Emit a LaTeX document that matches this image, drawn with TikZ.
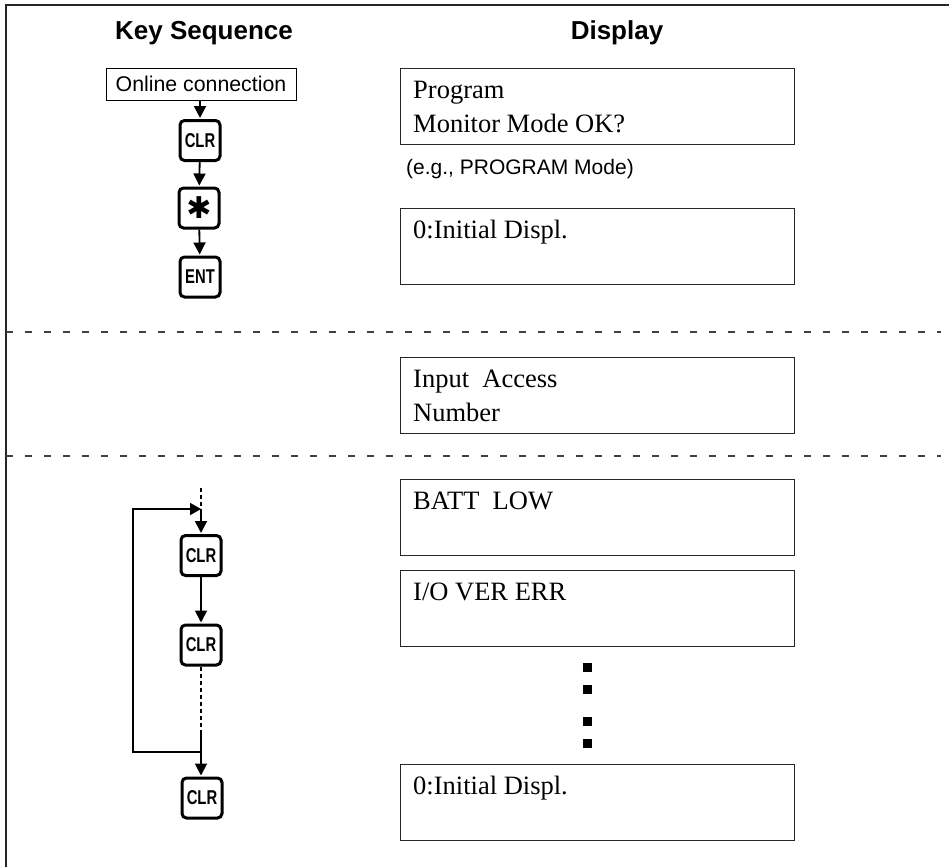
\documentclass[tikz,border=0pt]{standalone}
\usepackage{fontspec}
\setmainfont{Liberation Serif}
\setsansfont{Liberation Sans}
\newfontfamily\symfont{DejaVu Sans}
\usetikzlibrary{arrows.meta}
\tikzset{
  x=1pt,y=-1pt,
  frameline/.style={line width=1.3pt,black!85},
  sep/.style={line width=1.2pt,dash pattern=on 6.5pt off 12.5pt,black!75},
  dispbox/.style={draw,line width=1pt,black!85,minimum width=394pt,minimum height=76pt,inner sep=0pt,anchor=north west},
  disptext/.style={anchor=base west,inner sep=0pt,font=\fontsize{26.5}{26.5}\selectfont,text=black},
  head/.style={anchor=base,inner sep=0pt,font=\sffamily\bfseries\fontsize{26}{26}\selectfont},
  keybox/.style={draw,line width=3pt,rounded corners=4.5pt,minimum width=40pt,minimum height=40pt,inner sep=0pt,font=\sffamily\bfseries\fontsize{20}{20}\selectfont},
  arr/.style={line width=1.8pt,-{Triangle[length=12pt,width=12pt]},shorten >=1pt},
  lin/.style={line width=1.8pt},
  dotline/.style={line width=1.8pt,dash pattern=on 4pt off 3pt},
  dotsq/.style={fill=black,inner sep=0pt,minimum size=9pt},
}
\newcommand{\keylab}[1]{\scalebox{0.74}[1]{#1}}
\begin{document}
\begin{tikzpicture}
\useasboundingbox (0,0) rectangle (949,867);
\coordinate (fb) at (6,867); \coordinate (ftl) at (6,5); \coordinate (ftr) at (949,5);
\draw[frameline] (fb) -- (ftl) -- (ftr);
\coordinate (s1a) at (6,332); \coordinate (s1b) at (941,332);
\coordinate (s2a) at (6,456); \coordinate (s2b) at (941,456);
\draw[sep] (s1a) -- (s1b);
\draw[sep] (s2a) -- (s2b);

\node[head] (hk) at (204,39.5) {Key Sequence};
\node[head] (hd) at (617,39.5) {Display};

\node[draw,line width=1pt,minimum width=190pt,minimum height=32pt,inner sep=0pt,font=\sffamily\fontsize{21.3}{21.3}\selectfont] (on) at (201,84) {Online connection};
\node[keybox] (k1) at (200,140.5) {\keylab{CLR}};
\node[keybox] (k2) at (199,208) {\fontsize{30}{30}\selectfont\symfont ✱};
\node[keybox] (k3) at (200,277) {\keylab{ENT}};
\draw[arr] (on.south -| k1) -- (k1.north);
\draw[arr] (k1) -- (k2);
\draw[arr] (k2) -- (k3);

\node[keybox] (c1) at (201,555.5) {\keylab{CLR}};
\node[keybox] (c2) at (201,645) {\keylab{CLR}};
\node[keybox] (c3) at (202,798) {\keylab{CLR}};
\coordinate (top) at (201,488);
\coordinate (join) at (201,509);
\coordinate (lb) at (133,752);
\coordinate (lt) at (133,509);
\coordinate (dend) at (201,733);
\coordinate (lj) at (200,752);
\draw[dotline] (top) -- (join);
\draw[arr] (join) -- (c1.north);
\draw[arr] (c1) -- (c2);
\draw[dotline] (c2.south) -- (dend);
\draw[arr] (dend) -- (dend |- c3.north);
\draw[lin,-{Triangle[length=11pt,width=12pt]}] (lj) -- (lb) -- (lt) -- (join);

\node[dispbox] (d1) at (400,68) {};
\node[disptext] (t1a) at (413,98) {Program};
\node[disptext] (t1b) at (413,132) {Monitor Mode OK?};
\node[anchor=base west,inner sep=0pt,font=\sffamily\fontsize{21}{21}\selectfont] (eg) at (406,174) {(e.g., PROGRAM Mode)};
\node[dispbox] (d2) at (400,208) {};
\node[disptext] (t2) at (413,238) {0:Initial Displ.};
\node[dispbox] (d3) at (400,357) {};
\node[disptext] (t3a) at (413,387) {Input\ \ Access};
\node[disptext] (t3b) at (413,421.5) {Number};
\node[dispbox] (d4) at (400,479) {};
\node[disptext] (t4) at (413,509.5) {BATT\ \ LOW};
\node[dispbox] (d5) at (400,570) {};
\node[disptext] (t5) at (413,600.5) {I/O VER ERR};
\node[dispbox] (d6) at (400,763.5) {};
\node[disptext] (t6) at (413,794) {0:Initial Displ.};
\node[dotsq] (q1) at (587.5,667.5) {};
\node[dotsq] (q2) at (587.5,689.5) {};
\node[dotsq] (q3) at (587.5,721.5) {};
\node[dotsq] (q4) at (587.5,743.5) {};
\end{tikzpicture}
\end{document}
